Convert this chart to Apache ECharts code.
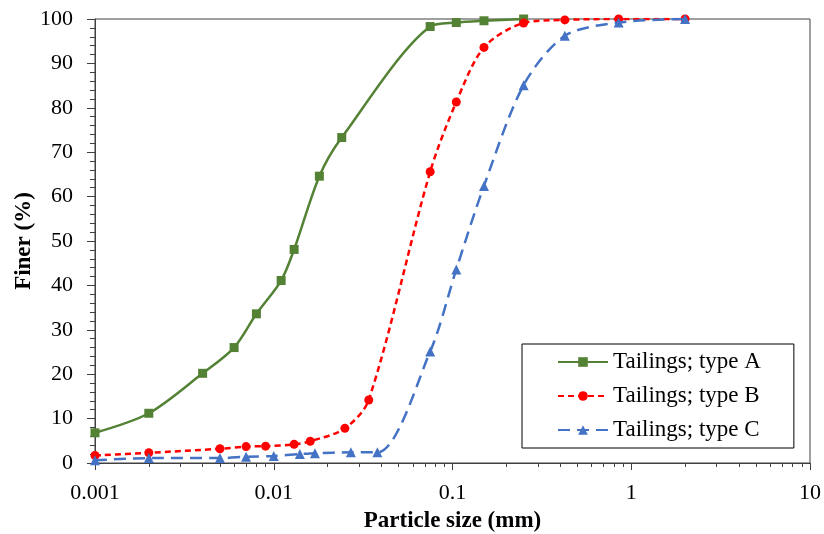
<!DOCTYPE html>
<html>
<head>
<meta charset="utf-8">
<script src="https://cdn.jsdelivr.net/npm/echarts@6/dist/echarts.min.js"></script>
<style>
  html, body { margin: 0; padding: 0; background: #fff; }
  #chart_psd { width: 824px; height: 534px; }
</style>
</head>
<body>
<div id="chart_psd"></div>
<script>
// particle size (mm) and percent finer
const sizesA = [0.001, 0.002, 0.004, 0.006, 0.008, 0.011, 0.013, 0.018, 0.024, 0.075, 0.105, 0.15, 0.25];
const finerA = [6.8, 11.2, 20.2, 26.0, 33.6, 41.1, 48.1, 64.6, 73.3, 98.3, 99.2, 99.6, 100];

const sizesB = [0.001, 0.002, 0.005, 0.007, 0.009, 0.013, 0.016, 0.025, 0.034, 0.075, 0.105, 0.15, 0.25, 0.425, 0.85, 2];
const finerB = [1.7, 2.3, 3.2, 3.7, 3.8, 4.2, 4.9, 7.8, 14.2, 65.6, 81.3, 93.6, 99.1, 99.8, 100, 100];

const sizesC = [0.001, 0.002, 0.005, 0.007, 0.01, 0.014, 0.017, 0.027, 0.038, 0.075, 0.105, 0.15, 0.25, 0.425, 0.85, 2];
const finerC = [0.6, 1.1, 1.1, 1.4, 1.6, 2.0, 2.2, 2.4, 2.4, 25.1, 43.6, 62.4, 85.1, 96.2, 99.2, 100];

const seriesNames = ["Tailings; type A", "Tailings; type B", "Tailings; type C"];
const xMajorTicks = [0.001, 0.01, 0.1, 1, 10];

// log minor ticks 2..9 in every decade
const xMinorTicks = [];
for (let i = 0; i < xMajorTicks.length - 1; i++) {
  for (let k = 2; k <= 9; k++) xMinorTicks.push(+(xMajorTicks[i] * k).toPrecision(3));
}

const pairs = (xs, ys) => xs.map((x, i) => [x, ys[i]]);
const serif = "Liberation Serif";
const axisColor = "#404040";

const chartInstance_psd = echarts.init(document.getElementById("chart_psd"));
let option = {
  backgroundColor: "#ffffff",
  animation: false,
  grid: {
    left: 95,
    right: 14,
    top: 19,
    bottom: 71,
    outerBoundsMode: "none",
    containLabel: false,
    show: true,
    borderColor: axisColor,
    borderWidth: 1,
  },
  legend: {
    orient: "vertical",
    left: 522,
    top: 344,
    data: seriesNames,
    backgroundColor: "#fff",
    borderColor: "#000",
    borderWidth: 1,
    padding: [6, 33, 6, 35],
    itemGap: 10,
    itemWidth: 50,
    itemHeight: 12,
    textStyle: { fontFamily: serif, fontSize: 23, color: "#000", lineHeight: 24 },
  },
  xAxis: [
    {
      type: "log",
      logBase: 10,
      min: 0.001,
      max: 10,
      name: "Particle size (mm)",
      nameLocation: "middle",
      nameGap: 47,
      nameMoveOverlap: false,
      nameTextStyle: { fontFamily: serif, fontSize: 23, fontWeight: "bold", color: "#000" },
      axisLine: { lineStyle: { color: axisColor, width: 1 } },
      axisTick: { show: true, length: 7, customValues: xMajorTicks, lineStyle: { color: axisColor } },
      axisLabel: {
        customValues: xMajorTicks,
        margin: 19,
        fontFamily: serif,
        fontSize: 22,
        color: "#000",
        formatter: (v) => String(v),
      },
      splitLine: { show: false },
    },
    {
      // second copy of the axis only for the short minor ticks
      type: "log",
      logBase: 10,
      min: 0.001,
      max: 10,
      position: "bottom",
      axisLine: { show: false },
      axisTick: { show: true, length: 4, customValues: xMinorTicks, lineStyle: { color: axisColor } },
      axisLabel: { show: false },
      splitLine: { show: false },
    },
  ],
  yAxis: {
    type: "value",
    min: 0,
    max: 100,
    interval: 10,
    name: "Finer (%)",
    nameLocation: "middle",
    nameGap: 59,
    nameMoveOverlap: false,
    nameTextStyle: { fontFamily: serif, fontSize: 23, fontWeight: "bold", color: "#000" },
    axisLine: { show: true, lineStyle: { color: axisColor, width: 1 } },
    axisTick: { show: true, length: 8, lineStyle: { color: axisColor } },
    minorTick: { show: true, splitNumber: 5, length: 5, lineStyle: { color: axisColor } },
    axisLabel: { margin: 22, fontFamily: serif, fontSize: 22, color: "#000" },
    splitLine: { show: false },
  },
  series: [
    {
      name: seriesNames[0],
      type: "line",
      smooth: 0.3,
      symbol: "rect",
      symbolSize: 9,
      data: pairs(sizesA, finerA),
      itemStyle: { color: "#548235" },
      lineStyle: { color: "#548235", width: 2.5, type: "solid" },
      z: 2,
    },
    {
      name: seriesNames[1],
      type: "line",
      smooth: 0.3,
      symbol: "circle",
      symbolSize: 9,
      data: pairs(sizesB, finerB),
      itemStyle: { color: "#ff0000" },
      lineStyle: { color: "#ff0000", width: 2.5, type: [6, 4] },
      z: 3,
    },
    {
      name: seriesNames[2],
      type: "line",
      smooth: 0.3,
      symbol: "triangle",
      symbolSize: 10,
      data: pairs(sizesC, finerC),
      itemStyle: { color: "#4472c4" },
      lineStyle: { color: "#4472c4", width: 2.5, type: [12, 7] },
      z: 4,
    },
  ],
};
chartInstance_psd.setOption(option);
</script>
</body>
</html>
